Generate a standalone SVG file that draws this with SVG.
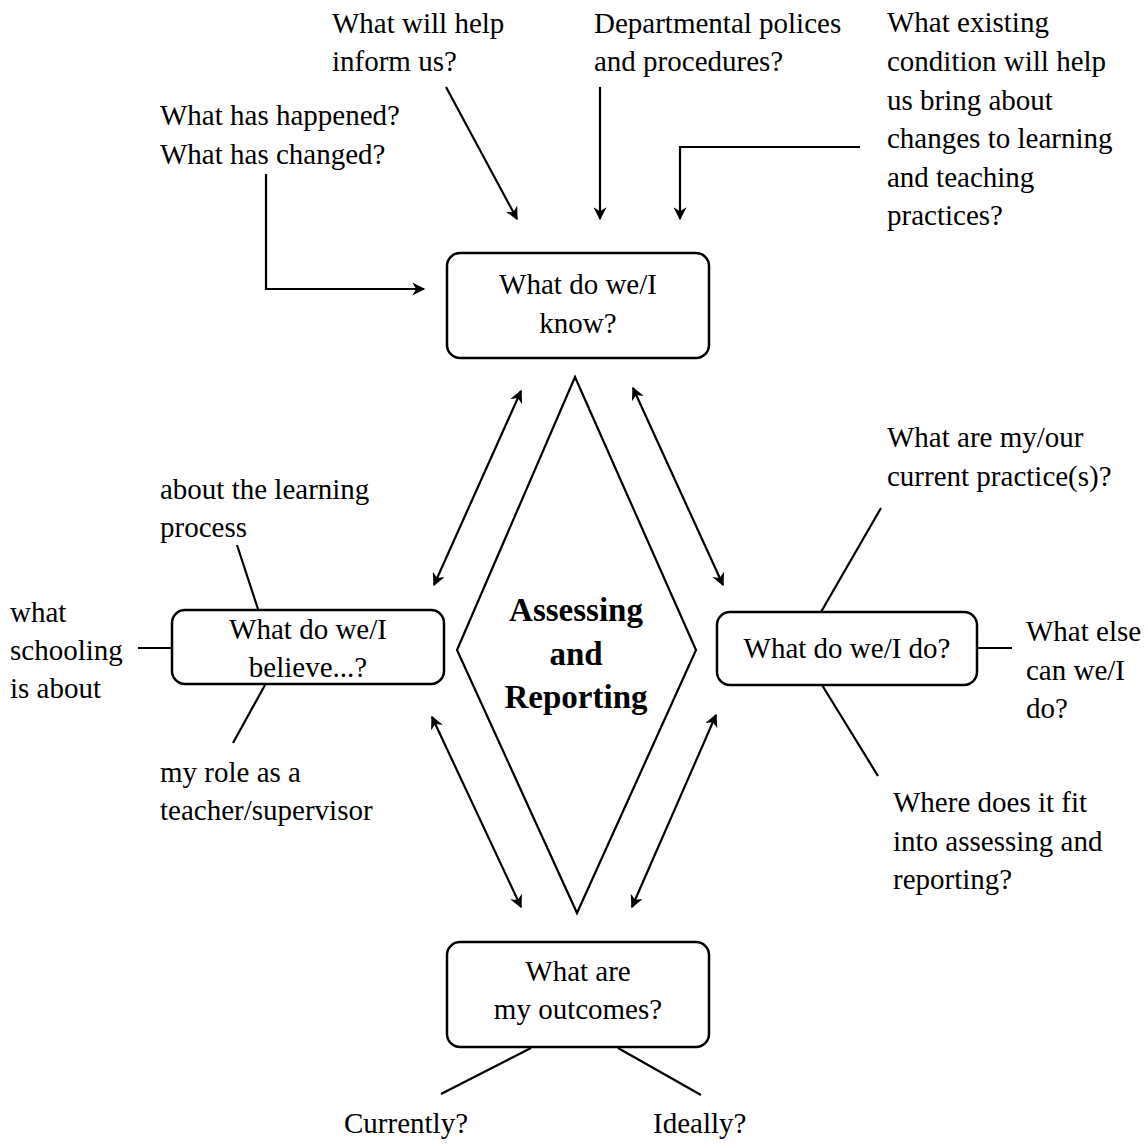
<svg xmlns="http://www.w3.org/2000/svg" width="1148" height="1148" viewBox="0 0 1148 1148">
<style>
text{font-family:"Liberation Serif","Times New Roman",serif;font-size:29px;fill:#000}
.c{text-anchor:middle}
.b{font-weight:bold;font-size:33px}
.box{fill:#fff;stroke:#000;stroke-width:2.5}
.ln{fill:none;stroke:#000;stroke-width:2.2}
</style>
<defs>
<marker id="ah" viewBox="0 0 10 10" refX="9" refY="5" markerWidth="17" markerHeight="13" markerUnits="userSpaceOnUse" orient="auto-start-reverse">
<path d="M0,0 L10,5 L0,10 L3,5 z" fill="#000"/>
</marker>
</defs>
<rect width="1148" height="1148" fill="#fff"/>
<g id="connectors">
<line class="ln" x1="446" y1="87" x2="517" y2="219" marker-end="url(#ah)"/>
<line class="ln" x1="600" y1="87" x2="600" y2="219" marker-end="url(#ah)"/>
<polyline class="ln" points="860,147 680,147 680,219" marker-end="url(#ah)"/>
<polyline class="ln" points="266,174 266,289 424,289" marker-end="url(#ah)"/>
<line class="ln" x1="521" y1="391" x2="434" y2="585" marker-start="url(#ah)" marker-end="url(#ah)"/>
<line class="ln" x1="633" y1="388" x2="723" y2="585" marker-start="url(#ah)" marker-end="url(#ah)"/>
<line class="ln" x1="432" y1="717" x2="521" y2="907" marker-start="url(#ah)" marker-end="url(#ah)"/>
<line class="ln" x1="716" y1="715" x2="632" y2="907" marker-start="url(#ah)" marker-end="url(#ah)"/>
<line class="ln" x1="258" y1="609" x2="237" y2="545"/>
<line class="ln" x1="138" y1="648" x2="172" y2="648"/>
<line class="ln" x1="265" y1="685" x2="233" y2="743"/>
<line class="ln" x1="821" y1="612" x2="881" y2="508"/>
<line class="ln" x1="977" y1="648" x2="1012" y2="648"/>
<line class="ln" x1="822" y1="685" x2="878" y2="776"/>
<line class="ln" x1="531" y1="1048" x2="441" y2="1094"/>
<line class="ln" x1="618" y1="1048" x2="701" y2="1095"/>
</g>
<g id="center">
<polygon class="ln" points="575,377 696,650 577,913 457,650"/>
<text class="c b" x="576" y="621">Assessing</text>
<text class="c b" x="576" y="665">and</text>
<text class="c b" x="576" y="708">Reporting</text>
</g>
<g id="know">
<rect class="box" x="447" y="253" width="262" height="105" rx="13"/>
<text class="c" x="578" y="294">What do we/I</text>
<text class="c" x="578" y="333">know?</text>
</g>
<g id="believe">
<rect class="box" x="172" y="610" width="272" height="74" rx="13"/>
<text class="c" x="308" y="639">What do we/I</text>
<text class="c" x="308" y="677">believe...?</text>
</g>
<g id="do">
<rect class="box" x="717" y="612" width="260" height="73" rx="13"/>
<text class="c" x="847" y="658">What do we/I do?</text>
</g>
<g id="outcomes">
<rect class="box" x="447" y="942" width="262" height="105" rx="13"/>
<text class="c" x="578" y="981">What are</text>
<text class="c" x="578" y="1019">my outcomes?</text>
</g>
<g id="labels">
<text x="332" y="33">What will help</text>
<text x="332" y="71">inform us?</text>
<text x="594" y="33">Departmental polices</text>
<text x="594" y="71">and procedures?</text>
<text x="887" y="32">What existing</text>
<text x="887" y="71">condition will help</text>
<text x="887" y="110">us bring about</text>
<text x="887" y="148">changes to learning</text>
<text x="887" y="187">and teaching</text>
<text x="887" y="225">practices?</text>
<text x="160" y="125">What has happened?</text>
<text x="160" y="164">What has changed?</text>
<text x="160" y="499">about the learning</text>
<text x="160" y="537">process</text>
<text x="10" y="622">what</text>
<text x="10" y="660">schooling</text>
<text x="10" y="698">is about</text>
<text x="160" y="782">my role as a</text>
<text x="160" y="820">teacher/supervisor</text>
<text x="887" y="447">What are my/our</text>
<text x="887" y="486">current practice(s)?</text>
<text x="1026" y="641">What else</text>
<text x="1026" y="680">can we/I</text>
<text x="1026" y="718">do?</text>
<text x="893" y="812">Where does it fit</text>
<text x="893" y="851">into assessing and</text>
<text x="893" y="889">reporting?</text>
<text x="344" y="1133">Currently?</text>
<text x="653" y="1133">Ideally?</text>
</g>
</svg>
